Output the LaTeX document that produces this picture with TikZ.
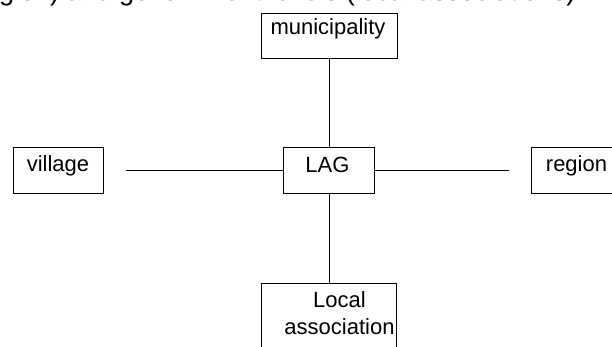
\documentclass[tikz,border=0pt]{standalone}
\usepackage{fontspec}
\setmainfont{Liberation Sans}
\begin{document}
\begin{tikzpicture}[x=1pt,y=-1pt,
  box/.style={draw=black, line width=1.4pt, inner sep=0pt, anchor=north west},
  txt/.style={inner sep=0pt, anchor=base, font=\fontsize{22}{27}\selectfont},
  link/.style={draw=black, line width=1.4pt}]
\useasboundingbox (0,0) rectangle (612,346);
\clip (0,0) rectangle (612,346);
\fill[white] (0,0) rectangle (612,346);
\node[inner sep=0pt, anchor=base west, font=\fontsize{27}{32}\selectfont] (caption) at (-1,0.5) {gion) and government levels (local associations)};
% boxes
\node[box, minimum width=136pt, minimum height=45pt] (muni) at (261,13) {};
\node[box, minimum width=91pt, minimum height=46pt] (LAG) at (283,147) {};
\node[box, minimum width=90pt, minimum height=46pt] (village) at (13,147) {};
\node[box, minimum width=91pt, minimum height=46pt] (region) at (531,147) {};
\node[box, minimum width=135pt, minimum height=90pt] (local) at (261,283) {};
% texts
\node[txt] (muniT) at (328,34.5) {municipality};
\node[txt] (LAGT) at (327.5,172) {LAG};
\node[txt] (villageT) at (58,171) {village};
\node[txt] (regionT) at (576.5,171) {region};
\node[txt, align=center, anchor=north] (localT) at (339.5,291) {Local\\association};
% connectors
\draw[link] (LAG.north |- muni.south) -- (LAG.north);
\draw[link, shorten >=22pt] (LAG.west) -- (village.east);
\draw[link, shorten >=22pt] (LAG.east) -- (region.west);
\draw[link] (LAG.south) -- (LAG.south |- local.north);
\end{tikzpicture}
\end{document}
